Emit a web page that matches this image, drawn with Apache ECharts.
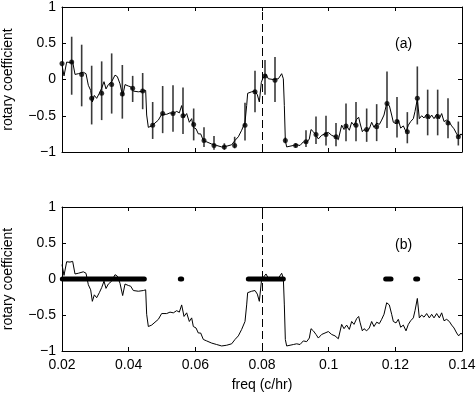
<!DOCTYPE html>
<html>
<head>
<meta charset="utf-8">
<script src="https://cdn.jsdelivr.net/npm/echarts@6/dist/echarts.min.js"></script>
<style>html,body{margin:0;padding:0;background:#fff;}#c{width:476px;height:394px;}</style>
</head>
<body>
<div id="c"></div>
<script>
// Rotary coefficient vs frequency (same curve in both panels)
const freq = [0.0200,0.0206,0.0214,0.0224,0.0232,0.0239,0.0249,0.0264,0.0272,0.0279,0.0286,0.0291,0.0297,0.0304,0.0312,0.0319,0.0326,0.0332,0.0339,0.0349,0.0359,0.0366,0.0374,0.0382,0.0389,0.0399,0.0406,0.0414,0.0429,0.0444,0.0451,0.0454,0.0459,0.0469,0.0479,0.0489,0.0499,0.0504,0.0514,0.0524,0.0534,0.0544,0.0552,0.0559,0.0566,0.0574,0.0582,0.0589,0.0594,0.0602,0.0609,0.0616,0.0624,0.0634,0.0649,0.0664,0.0679,0.0694,0.0709,0.0719,0.0729,0.0739,0.0749,0.0754,0.0757,0.0769,0.0779,0.0786,0.0792,0.0798,0.0802,0.0812,0.0819,0.0834,0.0849,0.0859,0.0864,0.0867,0.0870,0.0874,0.0884,0.0894,0.0904,0.0914,0.0924,0.0934,0.0942,0.0947,0.0954,0.0962,0.0969,0.0979,0.0989,0.0999,0.1009,0.1019,0.1029,0.1039,0.1046,0.1054,0.1062,0.1069,0.1076,0.1084,0.1090,0.1094,0.1101,0.1106,0.1114,0.1122,0.1129,0.1136,0.1144,0.1152,0.1159,0.1166,0.1174,0.1182,0.1189,0.1194,0.1202,0.1209,0.1216,0.1224,0.1232,0.1239,0.1246,0.1254,0.1259,0.1266,0.1272,0.1279,0.1286,0.1294,0.1302,0.1309,0.1316,0.1324,0.1332,0.1339,0.1346,0.1354,0.1362,0.1369,0.1376,0.1384,0.1390,0.1397,0.1400];
const rotary = [0.20,0.05,0.24,0.235,0.245,0.07,0.08,0.10,0.08,-0.08,-0.15,-0.31,-0.22,-0.26,-0.19,-0.12,-0.03,-0.13,-0.07,-0.03,0.06,0.04,-0.06,-0.23,-0.07,-0.09,-0.10,-0.16,-0.17,-0.16,-0.15,-0.49,-0.66,-0.64,-0.60,-0.56,-0.48,-0.47,-0.48,-0.46,-0.47,-0.44,-0.46,-0.36,-0.52,-0.47,-0.59,-0.54,-0.66,-0.68,-0.75,-0.75,-0.84,-0.86,-0.89,-0.91,-0.93,-0.92,-0.90,-0.84,-0.79,-0.70,-0.59,-0.36,-0.19,-0.17,-0.16,-0.21,-0.31,-0.04,0.01,0.07,0.01,0.00,0.01,0.08,0.01,-0.36,-0.84,-0.93,-0.92,-0.91,-0.90,-0.91,-0.86,-0.87,-0.82,-0.69,-0.72,-0.77,-0.82,-0.77,-0.75,-0.73,-0.77,-0.79,-0.83,-0.63,-0.69,-0.64,-0.70,-0.59,-0.63,-0.55,-0.52,-0.60,-0.72,-0.69,-0.72,-0.68,-0.59,-0.66,-0.60,-0.62,-0.56,-0.49,-0.33,-0.36,-0.49,-0.59,-0.61,-0.56,-0.67,-0.64,-0.72,-0.63,-0.58,-0.54,-0.44,-0.27,-0.54,-0.50,-0.53,-0.48,-0.54,-0.49,-0.54,-0.48,-0.54,-0.47,-0.58,-0.56,-0.59,-0.64,-0.68,-0.75,-0.79,-0.75,-0.77];

// Panel (a): band-averaged estimates with error bars
const dotFreq = [0.0200,0.0229,0.0259,0.0289,0.0319,0.0349,0.0381,0.0412,0.0442,0.0472,0.0502,0.0533,0.0563,0.0595,0.0626,0.0656,0.0687,0.0718,0.0749,0.0779,0.0809,0.0839,0.0870,0.0901,0.0932,0.0962,0.0992,0.1022,0.1052,0.1082,0.1114,0.1144,0.1175,0.1205,0.1236,0.1266,0.1297,0.1327,0.1358,0.1389];
const dotValue = [0.22,0.24,0.07,-0.26,-0.19,-0.07,-0.20,-0.12,-0.16,-0.63,-0.47,-0.47,-0.50,-0.62,-0.84,-0.91,-0.93,-0.91,-0.63,-0.17,0.05,-0.01,-0.84,-0.91,-0.86,-0.76,-0.76,-0.79,-0.64,-0.63,-0.69,-0.65,-0.33,-0.58,-0.72,-0.26,-0.51,-0.51,-0.60,-0.79];
const errHigh = [0.22,0.59,0.48,0.19,0.25,0.36,0.20,0.05,0.09,-0.31,-0.09,-0.08,-0.11,-0.40,-0.66,-0.78,-0.88,-0.79,-0.32,0.12,0.27,0.31,-0.80,-0.88,-0.70,-0.51,-0.50,-0.60,-0.33,-0.31,-0.40,-0.34,0.11,-0.24,-0.45,0.18,-0.14,-0.14,-0.26,-0.58];
const errLow = [0.22,-0.21,-0.37,-0.62,-0.56,-0.47,-0.54,-0.31,-0.41,-0.82,-0.74,-0.72,-0.75,-0.84,-0.93,-0.97,-0.97,-0.95,-0.84,-0.45,-0.21,-0.31,-0.88,-0.94,-0.93,-0.89,-0.91,-0.92,-0.85,-0.85,-0.86,-0.85,-0.67,-0.80,-0.88,-0.62,-0.77,-0.77,-0.81,-0.91];

// Panel (b): frequency ranges marked at zero
const sigStart = [0.0201,0.0555,0.0759,0.1171,0.1261];
const sigEnd   = [0.0447,0.0559,0.0864,0.1187,0.1267];

const markFreq = 0.08;
const FONT = 'Liberation Sans, Arial, Helvetica, sans-serif';

const chart = echarts.init(document.getElementById('c'), null, {renderer: 'canvas'});

function fmtX(v){ return String(+v.toFixed(2)); }
function fmtY(v){ const s = String(+v.toFixed(2)); return s.replace('-', '\u2212'); }

function xAx(grid, pos, labels, name){
  return {
    type: 'value', gridIndex: grid, position: pos, min: 0.02, max: 0.14, interval: 0.02,
    axisLine: {show: true, onZero: false, lineStyle: {color: '#000', width: 1}},
    axisTick: {show: true, inside: true, length: 4, lineStyle: {color: '#000'}},
    axisLabel: {show: labels, formatter: fmtX, color: '#000', fontSize: 14, fontFamily: FONT, margin: 7},
    splitLine: {show: false},
    name: name || '', nameLocation: 'middle', nameGap: 27,
    nameTextStyle: {color: '#000', fontSize: 14, fontFamily: FONT}
  };
}
function yAx(grid, pos, labels){
  return {
    type: 'value', gridIndex: grid, position: pos, min: -1, max: 1, interval: 0.5,
    axisLine: {show: true, onZero: false, lineStyle: {color: '#000', width: 1}},
    axisTick: {show: true, inside: true, length: 4, lineStyle: {color: '#000'}},
    axisLabel: {show: labels, formatter: fmtY, color: '#000', fontSize: 14, fontFamily: FONT, margin: 6},
    splitLine: {show: false},
    name: labels ? 'rotary coefficient' : '', nameLocation: 'middle', nameGap: 47, nameRotate: 90,
    nameTextStyle: {color: '#000', fontSize: 14, fontFamily: FONT}
  };
}

const lineData = freq.map((f, i) => [f, rotary[i]]);
const dashMark = {
  silent: true, symbol: ['none', 'none'], label: {show: false},
  lineStyle: {color: '#000', type: [8, 4], width: 1},
  data: [{xAxis: markFreq}], animation: false
};

const option = {
  animation: false,
  backgroundColor: '#fff',
  grid: [
    {left: 62, top: 7, width: 400, height: 145, containLabel: false, outerBoundsMode: 'none'},
    {left: 62, top: 207, width: 400, height: 144, containLabel: false, outerBoundsMode: 'none'}
  ],
  xAxis: [xAx(0, 'bottom', false), xAx(0, 'top', false), xAx(1, 'bottom', true, 'freq (c/hr)'), xAx(1, 'top', false)],
  yAxis: [yAx(0, 'left', true), yAx(0, 'right', false), yAx(1, 'left', true), yAx(1, 'right', false)],
  graphic: [
    {type: 'text', left: 395, top: 37, style: {text: '(a)', fontSize: 14, fontFamily: FONT, fill: '#000'}},
    {type: 'text', left: 395, top: 238, style: {text: '(b)', fontSize: 14, fontFamily: FONT, fill: '#000'}}
  ],
  series: [
    {
      type: 'custom', xAxisIndex: 0, yAxisIndex: 0,
      data: dotFreq.map((f, i) => [f, errHigh[i], errLow[i]]),
      encode: {x: 0, y: [1, 2]},
      renderItem: function(params, api){
        const p1 = api.coord([api.value(0), api.value(1)]);
        const p2 = api.coord([api.value(0), api.value(2)]);
        return {type: 'line', shape: {x1: p1[0], y1: p1[1], x2: p2[0], y2: p2[1]},
                style: {stroke: '#3a3a3a', lineWidth: 1.6}};
      },
      z: 2
    },
    {
      type: 'line', xAxisIndex: 0, yAxisIndex: 0, data: lineData, showSymbol: false, symbol: 'none',
      lineStyle: {color: '#000', width: 1}, markLine: dashMark, z: 3
    },
    {
      type: 'scatter', xAxisIndex: 0, yAxisIndex: 0,
      data: dotFreq.map((f, i) => [f, dotValue[i]]),
      symbol: 'circle', symbolSize: 5, itemStyle: {color: '#000'}, z: 4
    },
    {
      type: 'line', xAxisIndex: 2, yAxisIndex: 2, data: lineData, showSymbol: false, symbol: 'none',
      lineStyle: {color: '#000', width: 1}, markLine: dashMark, z: 3
    },
    {
      type: 'custom', xAxisIndex: 2, yAxisIndex: 2,
      data: sigStart.map((s, i) => [s, sigEnd[i], 0]),
      encode: {x: [0, 1], y: 2},
      renderItem: function(params, api){
        const p1 = api.coord([api.value(0), api.value(2)]);
        const p2 = api.coord([api.value(1), api.value(2)]);
        return {type: 'line', shape: {x1: p1[0], y1: p1[1], x2: p2[0], y2: p2[1]},
                style: {stroke: '#000', lineWidth: 5, lineCap: 'round'}};
      },
      z: 5
    }
  ]
};
chart.setOption(option);
</script>
</body>
</html>
